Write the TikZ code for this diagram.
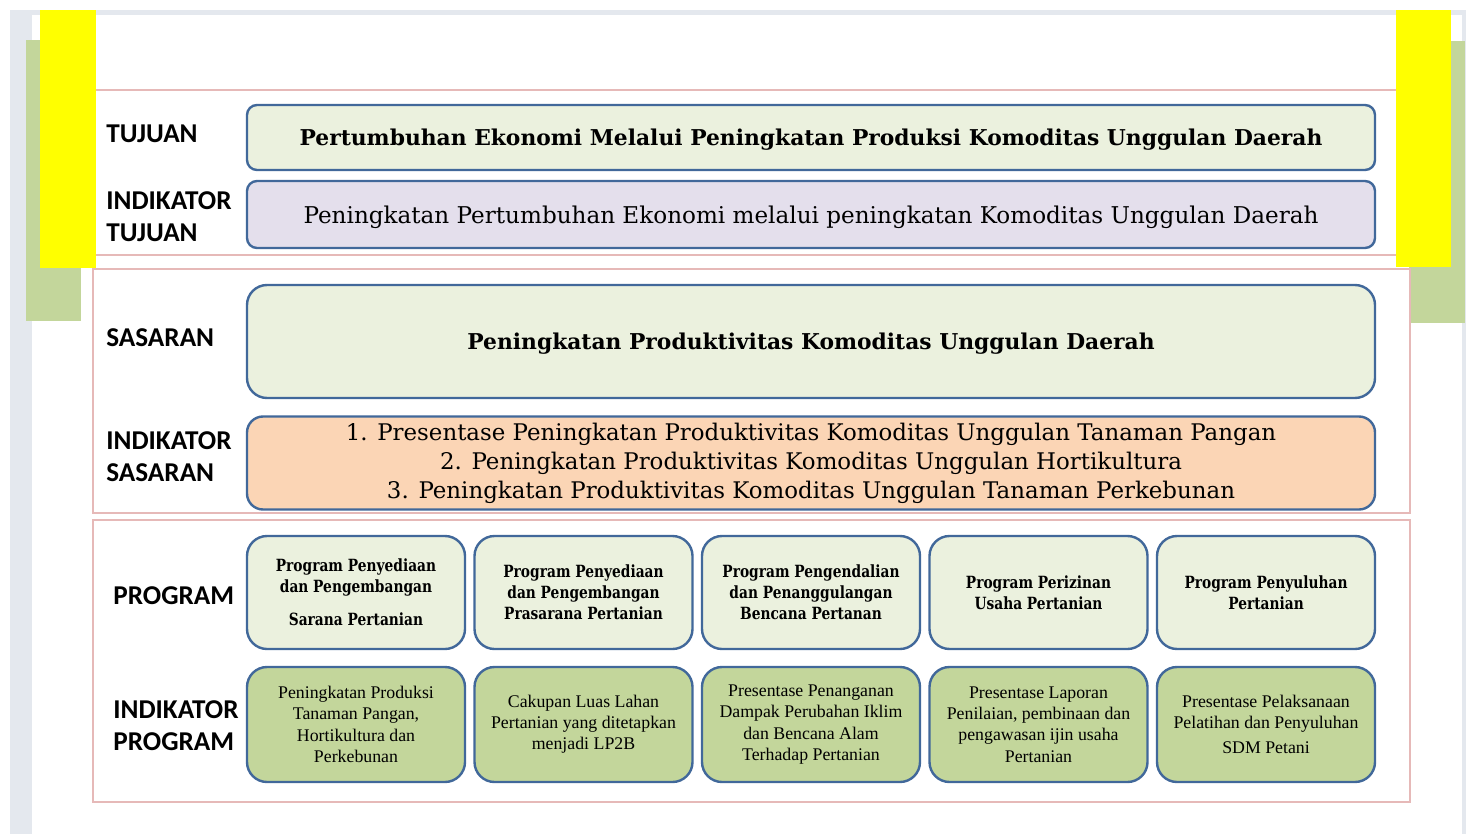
\documentclass[tikz,border=0pt]{standalone}
\usepackage{fontspec}
\setmainfont{DejaVu Serif}
\newfontfamily\labelfont{Carlito}
\newfontfamily\timesfont{Liberation Serif}
\newfontfamily\progfont[FakeStretch=0.82]{DejaVu Serif}
\definecolor{boxline}{HTML}{41689A}
\definecolor{lightgreen}{HTML}{EBF1DE}
\definecolor{lavender}{HTML}{E4DFEC}
\definecolor{peach}{HTML}{FBD5B5}
\definecolor{olive}{HTML}{C3D69B}
\definecolor{framepink}{HTML}{E6B9B8}
\definecolor{pagegrey}{HTML}{E4E8EE}
\definecolor{markyellow}{RGB}{255,255,0}
\tikzset{
  box/.style={draw=boxline, line width=1.2pt, align=center, inner sep=2pt},
  rowlabel/.style={anchor=west, align=left, inner sep=0pt,
    font=\labelfont\bfseries\fontsize{13.6}{16}\selectfont},
  widebox/.style={box, minimum width=564pt, text depth=0pt},
  progbox/.style={box, fill=lightgreen, rounded corners=10pt,
    minimum width=109pt, minimum height=56.5pt,
    font=\progfont\bfseries\fontsize{8.4}{10.5}\selectfont},
  indbox/.style={box, fill=olive, rounded corners=10pt,
    minimum width=109pt, minimum height=57.5pt,
    font=\timesfont\fontsize{8.9}{10.6}\selectfont},
}

\begin{document}
\begin{tikzpicture}[x=0.5pt, y=-0.5pt]
        % page
        \fill[white] (0, 0) rectangle (1470, 834);
        \fill[pagegrey] (10, 10) rectangle (1466, 834);
        \fill[white] (32, 15) rectangle (1462, 834);
        % side bars
        \fill[olive] (26, 40) rectangle (81, 321);
        \fill[olive] (1409, 41) rectangle (1465, 323);
        % frames
        \draw[framepink, line width=1pt] (60, 90) rectangle (1420, 255);
        \draw[framepink, line width=1pt] (93, 269) rectangle (1410, 513);
        \draw[framepink, line width=1pt] (93, 520) rectangle (1410, 802);
        \fill[markyellow] (40, 10) rectangle (96, 268);
        \fill[markyellow] (1396, 10) rectangle (1451, 267);

        % labels
        \node[rowlabel] (ltujuan) at (106, 134) {TUJUAN};
        \node[rowlabel] (lindtujuan) at (106, 217) {INDIKATOR\\TUJUAN};
        \node[rowlabel] (lsasaran) at (106, 338) {SASARAN};
        \node[rowlabel] (lindsasaran) at (106, 457) {INDIKATOR\\SASARAN};
        \node[rowlabel] (lprogram) at (113, 596) {PROGRAM};
        \node[rowlabel] (lindprogram) at (113, 726) {INDIKATOR\\PROGRAM};

        % tujuan and sasaran
        \node[widebox, fill=lightgreen, rounded corners=5pt, minimum height=32.5pt,
          font=\bfseries\fontsize{10.9}{12}\selectfont] (tujuan) at (811, 137.5)
          {Pertumbuhan Ekonomi Melalui Peningkatan Produksi Komoditas Unggulan Daerah};
        \node[widebox, fill=lavender, rounded corners=5pt, minimum height=33.5pt,
          font=\fontsize{11.55}{13}\selectfont] (indtujuan) at (811, 214.5)
          {Peningkatan Pertumbuhan Ekonomi melalui peningkatan Komoditas Unggulan Daerah};
        \node[widebox, fill=lightgreen, rounded corners=10pt, minimum height=56.5pt,
          font=\bfseries\fontsize{10.9}{12}\selectfont] (sasaran) at (811, 341.5)
          {Peningkatan Produktivitas Komoditas Unggulan Daerah};
        \node[box, fill=peach, rounded corners=8pt, minimum width=564pt, minimum height=46.5pt,
          font=\fontsize{11.45}{14.5}\selectfont] (indsasaran) at (811, 463)
          {1. Presentase Peningkatan Produktivitas Komoditas Unggulan Tanaman Pangan\\
           2. Peningkatan Produktivitas Komoditas Unggulan Hortikultura\\
           3. Peningkatan Produktivitas Komoditas Unggulan Tanaman Perkebunan};

        % program
        \node[progbox] (prog1) at (356, 592.5) {Program Penyediaan\\dan Pengembangan\\[6pt]Sarana Pertanian};
        \node[progbox] (prog2) at (583.5, 592.5) {Program Penyediaan\\dan Pengembangan\\Prasarana Pertanian};
        \node[progbox] (prog3) at (811, 592.5) {Program Pengendalian\\dan Penanggulangan\\Bencana Pertanan};
        \node[progbox] (prog4) at (1038.5, 592.5) {Program Perizinan\\Usaha Pertanian};
        \node[progbox] (prog5) at (1266, 592.5) {Program Penyuluhan\\Pertanian};

        % indikator program
        \node[indbox] (ind1) at (356, 724.5) {Peningkatan Produksi\\Tanaman Pangan,\\Hortikultura dan\\Perkebunan};
        \node[indbox] (ind2) at (583.5, 724.5) {Cakupan Luas Lahan\\Pertanian yang ditetapkan\\menjadi LP2B};
        \node[indbox] (ind3) at (811, 724.5) {Presentase Penanganan\\Dampak Perubahan Iklim\\dan Bencana Alam\\Terhadap Pertanian};
        \node[indbox] (ind4) at (1038.5, 724.5) {Presentase Laporan\\Penilaian, pembinaan dan\\pengawasan ijin usaha\\Pertanian};
        \node[indbox] (ind5) at (1266, 724.5) {Presentase Pelaksanaan\\Pelatihan dan Penyuluhan\\[2pt]SDM Petani};
      \end{tikzpicture}
\end{document}
